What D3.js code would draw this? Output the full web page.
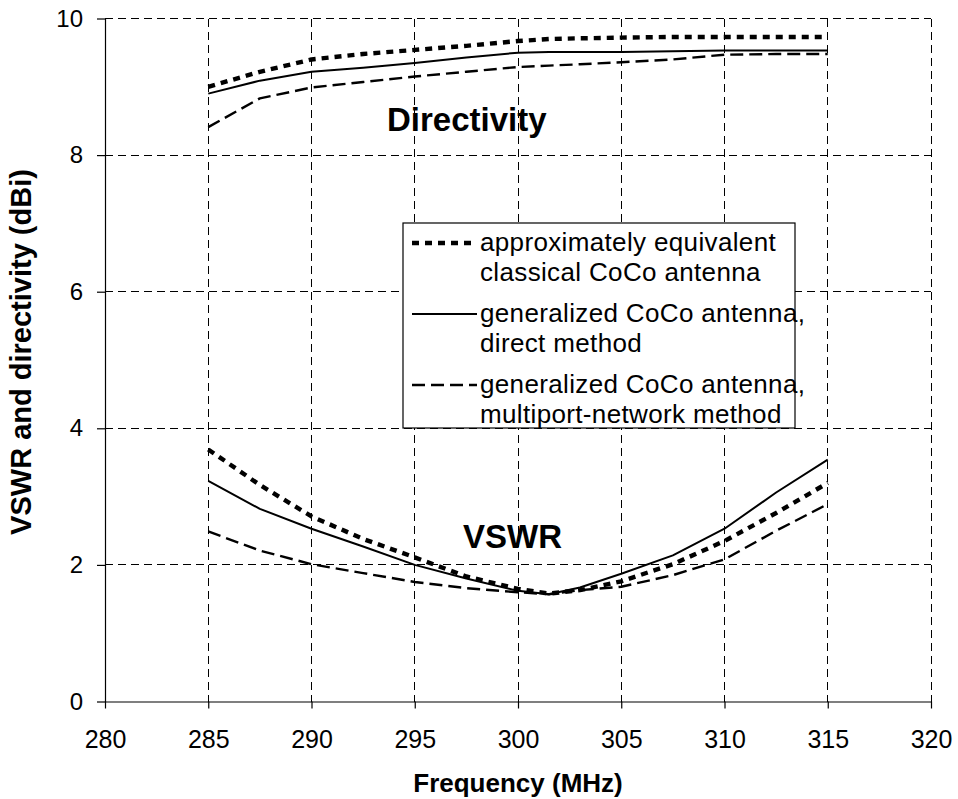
<!DOCTYPE html>
<html>
<head>
<meta charset="utf-8">
<script src="https://cdn.jsdelivr.net/npm/d3@7"></script>
<style>
  html, body { margin: 0; padding: 0; background: #fff; }
  svg { display: block; font-family: "Liberation Sans", Arial, sans-serif; }
</style>
</head>
<body>
<svg id="chart" width="958" height="799"></svg>
<script>
// ---- data ----
const freq = [285, 287.5, 290, 292.5, 295, 297.5, 300, 301.5, 303, 305, 307.5, 310, 312.5, 315];

const dirClassical  = [9.00, 9.22, 9.40, 9.48, 9.54, 9.60, 9.67, 9.70, 9.71, 9.72, 9.73, 9.73, 9.73, 9.73];
const dirDirect     = [8.90, 9.09, 9.22, 9.28, 9.35, 9.43, 9.50, 9.51, 9.51, 9.51, 9.52, 9.53, 9.53, 9.53];
const dirMultiport  = [8.41, 8.83, 8.99, 9.07, 9.15, 9.22, 9.29, 9.31, 9.33, 9.36, 9.40, 9.47, 9.48, 9.48];

const vswrClassical = [3.69, 3.17, 2.71, 2.38, 2.11, 1.83, 1.65, 1.58, 1.63, 1.76, 2.01, 2.35, 2.76, 3.20];
const vswrDirect    = [3.23, 2.82, 2.53, 2.27, 2.00, 1.80, 1.62, 1.57, 1.67, 1.87, 2.14, 2.53, 3.06, 3.54];
const vswrMultiport = [2.49, 2.21, 2.01, 1.88, 1.75, 1.66, 1.60, 1.57, 1.63, 1.68, 1.85, 2.08, 2.50, 2.89];

const xTicks = [280, 285, 290, 295, 300, 305, 310, 315, 320];
const yTicks = [0, 2, 4, 6, 8, 10];

const legendLabels = [
  ["approximately equivalent", "classical CoCo antenna"],
  ["generalized CoCo antenna,", "direct method"],
  ["generalized CoCo antenna,", "multiport-network method"]
];

// ---- layout ----
const svg = d3.select("#chart");
const pL = 105, pR = 931, pT = 18.5, pB = 701.5;

const x = d3.scaleLinear().domain([280, 320]).range([pL, pR]);
const y = d3.scaleLinear().domain([0, 10]).range([pB, pT]);

const styles = {
  classical: { width: 4.4, dash: "7,6" },
  direct:    { width: 2,   dash: null },
  multiport: { width: 2.4, dash: "13,6" }
};

// gridlines
const grid = svg.append("g").attr("shape-rendering", "crispEdges");
grid.selectAll("line.v").data(xTicks.filter(d => d > 280)).enter().append("line")
  .attr("x1", d => x(d)).attr("x2", d => x(d))
  .attr("y1", pT).attr("y2", pB)
  .attr("stroke", "#000").attr("stroke-width", 1).attr("stroke-dasharray", "8,5");
grid.selectAll("line.h").data(yTicks.filter(d => d > 0)).enter().append("line")
  .attr("x1", pL).attr("x2", pR)
  .attr("y1", d => y(d)).attr("y2", d => y(d))
  .attr("stroke", "#000").attr("stroke-width", 1).attr("stroke-dasharray", "8,5");

// axes
const xAxis = d3.axisBottom(x).tickValues(xTicks).tickSize(7).tickSizeOuter(0).tickPadding(8);
const yAxis = d3.axisLeft(y).tickValues(yTicks).tickSize(8).tickSizeOuter(0).tickPadding(14);

const gx = svg.append("g").attr("transform", `translate(0,${pB})`).call(xAxis);
gx.select(".domain").attr("stroke", "#000").attr("stroke-width", 1.2);
gx.selectAll(".tick line").attr("stroke", "#000").attr("stroke-width", 1.2);
gx.selectAll(".tick text").attr("font-size", 25).attr("fill", "#000")
  .attr("font-family", "Liberation Sans, Arial, sans-serif").attr("dy", "0.71em").attr("y", 29);

const gy = svg.append("g").attr("transform", `translate(${pL},0)`).call(yAxis);
gy.select(".domain").attr("stroke", "#000").attr("stroke-width", 1.2);
gy.selectAll(".tick line").attr("stroke", "#000").attr("stroke-width", 1.2);
gy.selectAll(".tick text").attr("font-size", 24).attr("fill", "#000")
  .attr("font-family", "Liberation Sans, Arial, sans-serif").attr("x", -22);

// series
const line = d3.line().x(d => x(d[0])).y(d => y(d[1]));
const series = [
  { vals: dirClassical,  st: styles.classical },
  { vals: dirDirect,     st: styles.direct },
  { vals: dirMultiport,  st: styles.multiport },
  { vals: vswrClassical, st: styles.classical },
  { vals: vswrDirect,    st: styles.direct },
  { vals: vswrMultiport, st: styles.multiport }
];
series.forEach(s => {
  svg.append("path")
    .datum(freq.map((f, i) => [f, s.vals[i]]))
    .attr("d", line)
    .attr("fill", "none")
    .attr("stroke", "#000")
    .attr("stroke-width", s.st.width)
    .attr("stroke-dasharray", s.st.dash)
    .attr("stroke-linejoin", "round");
});

// in-plot labels
svg.append("text").attr("x", 387).attr("y", 131)
  .attr("font-size", 33).attr("font-weight", "bold").text("Directivity");
svg.append("text").attr("x", 463).attr("y", 548)
  .attr("font-size", 33).attr("font-weight", "bold").text("VSWR");

// legend
const lg = svg.append("g");
lg.append("rect").attr("x", 403).attr("y", 223).attr("width", 392).attr("height", 205)
  .attr("fill", "#fff").attr("stroke", "#000").attr("stroke-width", 1.2);
const legStyles = [styles.classical, styles.direct, styles.multiport];
const entryBase = [251, 322, 393];
legendLabels.forEach((lines, i) => {
  lg.append("line").attr("x1", 412).attr("x2", 477)
    .attr("y1", entryBase[i] - 8).attr("y2", entryBase[i] - 8)
    .attr("stroke", "#000").attr("stroke-width", legStyles[i].width)
    .attr("stroke-dasharray", legStyles[i].dash);
  lines.forEach((t, j) => {
    lg.append("text").attr("x", 480).attr("y", entryBase[i] + j * 30)
      .attr("font-size", 26).attr("letter-spacing", "0.35px").text(t);
  });
});

// axis titles
svg.append("text").attr("x", (pL + pR) / 2).attr("y", 792)
  .attr("text-anchor", "middle").attr("font-size", 26).attr("font-weight", "bold")
  .text("Frequency (MHz)");
svg.append("text").attr("transform", `translate(31,352) rotate(-90)`)
  .attr("text-anchor", "middle").attr("font-size", 29).attr("font-weight", "bold")
  .text("VSWR and directivity (dBi)");
</script>
</body>
</html>
